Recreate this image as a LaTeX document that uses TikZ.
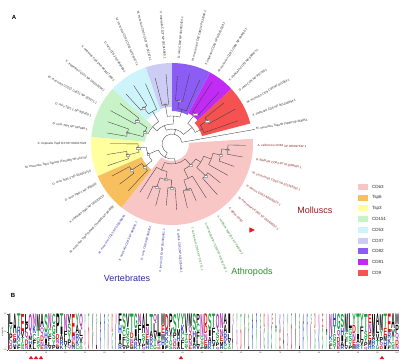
\documentclass[tikz,border=0pt]{standalone}
\usepackage{fontspec}
\setmainfont{Liberation Sans}
\setsansfont{Liberation Sans}
\usepackage{graphicx}
\definecolor{cA}{HTML}{F9C6C6}
\definecolor{cB}{HTML}{F7BF5E}
\definecolor{cC}{HTML}{FFFF9E}
\definecolor{cD}{HTML}{C8F2C8}
\definecolor{cE}{HTML}{CCF4FA}
\definecolor{cF}{HTML}{CCCCF5}
\definecolor{cG}{HTML}{8C5CF5}
\definecolor{cH}{HTML}{C22BF5}
\definecolor{cI}{HTML}{F55252}
\definecolor{cvert}{HTML}{2B2BA0}
\definecolor{carth}{HTML}{2E8B2E}
\definecolor{cmoll}{HTML}{8B1E1E}
\definecolor{lgreen}{HTML}{14A03C}
\definecolor{lpurple}{HTML}{B030B0}
\definecolor{lblue}{HTML}{2040D0}
\definecolor{lred}{HTML}{E01010}
\definecolor{redmark}{HTML}{E8141E}
\def\aaA{black}\def\aaV{black}\def\aaL{black}\def\aaI{black}\def\aaP{black}\def\aaW{black}\def\aaF{black}\def\aaM{black}
\def\aaG{lgreen}\def\aaS{lgreen}\def\aaT{lgreen}\def\aaY{lgreen}\def\aaC{lgreen}
\def\aaN{lpurple}\def\aaQ{lpurple}
\def\aaK{lblue}\def\aaR{lblue}\def\aaH{lblue}
\def\aaD{lred}\def\aaE{lred}
% tree helpers
\newcommand\brad[3]{\draw[br] (#1:#2) -- (#1:#3);}
\newcommand\barc[3]{\draw[br] (#1:#3) arc[start angle=#1,end angle=#2,radius=#3pt];}
\newcommand\wdg[5]{\fill[#5] (#1:#3) arc[start angle=#1,end angle=#2,radius=#3pt] -- (#2:#4) arc[start angle=#2,end angle=#1,radius=#4pt] -- cycle;}
\newcommand\leaflab[3]{%
  \pgfmathtruncatemacro\flip{((#1>90)&&(#1<270))?1:0}%
  \ifnum\flip=1
    \node[lab,text=#2,anchor=east,rotate=#1-180] at (#1:85) {#3};
  \else
    \node[lab,text=#2,anchor=west,rotate=#1] at (#1:85) {#3};
  \fi}
\newcommand\boot[3]{\node[bootbox] at (#1:#2) {#3};}
% logo helpers
\newcommand\logoletter[5]{%
  \pgfmathsetmacro\lgsz{#3-0.3}%
  \node[inner sep=0pt,outer sep=0pt,anchor=south west] at (#1,#2+0.15) {\resizebox*{#5pt}{\lgsz pt}{\color{\csname aa#4\endcsname}\bfseries #4}};}
\newcommand\logocol[2]{%
  \pgfmathsetmacro\lgx{9.2+(#1-1)*3.9}%
  \pgfmathsetmacro\lgpa{{0.42,0.30,0.55,0.36,0.48,0.26,0.62,0.33,0.45,0.38,0.52}[mod(#1,11)]}%
  \pgfmathsetmacro\lghT{36*\lgpa}%
  \pgfmathsetmacro\lgrs{36-\lghT}%
  \foreach \lgfr/\lgcu [count=\lgk] in {0.17/0,0.22/0.17,0.27/0.39,0.34/0.66}{%
    \pgfmathsetmacro\lghh{\lgrs*\lgfr}%
    \pgfmathsetmacro\lgyb{10+\lgrs*\lgcu}%
    \pgfmathparse{{"S","E","K","G","N","R","T","D","A","V","Q","I","L","P","H","F","Y","M","C"}[mod(#1*4+\lgk*3,19)]}%
    \let\lglt\pgfmathresult
    \logoletter{\lgx}{\lgyb}{\lghh}{\lglt}{3.5}%
  }%
  \pgfmathsetmacro\lgyt{10+\lgrs}%
  \logoletter{\lgx}{\lgyt}{\lghT}{#2}{3.5}%
}
\newcommand\thincol[1]{%
  \pgfmathsetmacro\lgx{9+(#1-1)*3.9+1.4}%
  \pgfmathsetmacro\lghb{36*{0.55,0.62,0.48,0.7,0.58}[mod(#1,5)]}%
  \pgfmathsetmacro\lghtop{36-\lghb}%
  \pgfmathsetmacro\lgyt{10+\lghb}%
  \pgfmathparse{{"N","G","K","S","T","E","A","Q","D","V","L","R","Y"}[mod(#1,13)]}\let\lgla\pgfmathresult
  \pgfmathparse{{"N","G","K","S","T","E","A","Q","D","V","L","R","Y"}[mod(#1*5+3,13)]}\let\lglb\pgfmathresult
  \logoletter{\lgx}{10}{\lghb}{\lgla}{0.9}%
  \logoletter{\lgx}{\lgyt}{\lghtop}{\lglb}{0.9}%
}
\begin{document}
\begin{tikzpicture}[x=1pt,y=1pt,
  br/.style={draw=black!75,line width=0.35pt},
  lab/.style={font=\fontsize{3}{3.6}\selectfont,inner sep=0.4pt},
  bootbox/.style={font=\fontsize{1.8}{2}\selectfont,fill=white,draw=black!35,line width=0.1pt,inner sep=0.3pt},
  grp/.style={font=\fontsize{9}{10}\selectfont},
  leg/.style={font=\fontsize{4.5}{5}\selectfont,inner sep=0pt,text=black!85},
  panel/.style={font=\bfseries\fontsize{6}{7}\selectfont},
  tick/.style={font=\fontsize{2}{2.4}\selectfont,inner sep=0pt,text=black!80}]
\useasboundingbox (0,0) rectangle (400,360);
\fill[white] (0,0) rectangle (400,360);
\node[panel] (pA) at (14,343) {A};
\node[panel] (pB) at (13,65) {B};
\begin{scope}[shift={(172,216)}]
% wedges
\wdg{14.7}{43.0}{31}{81}{cI}
\wdg{43.0}{61.9}{35}{81}{cH}
\wdg{61.9}{90.2}{33}{81}{cG}
\wdg{90.2}{109.0}{37}{81}{cF}
\wdg{109.0}{137.3}{35}{81}{cE}
\wdg{137.3}{175.1}{27}{81}{cD}
\wdg{175.1}{203.4}{31}{81}{cC}
\wdg{203.4}{231.7}{33}{81}{cB}
\wdg{231.7}{363.7}{17}{81}{cA}
% root
\barc{10}{241.6}{10}
\brad{10}{10}{84}
\brad{76.03}{10}{15}
\brad{241.6}{10}{15}
% upper group
\barc{39.48}{112.57}{15}
\brad{39.48}{15}{26}
\brad{112.57}{15}{20}
\barc{26.5}{52.45}{26}
\brad{26.5}{26}{34}
\brad{52.45}{26}{38}
\barc{19.43}{33.58}{34}
\brad{19.43}{34}{70}
\brad{33.58}{34}{42}
\barc{28.86}{38.30}{42}
\brad{28.86}{42}{72}
\brad{38.30}{42}{66}
\barc{47.73}{57.16}{38}
\brad{47.73}{38}{70}
\brad{57.16}{38}{74}
\barc{86.64}{138.5}{20}
\brad{86.64}{20}{28}
\brad{138.5}{20}{26}
\barc{73.67}{99.6}{28}
\brad{73.67}{28}{36}
\brad{99.6}{28}{40}
\barc{66.59}{80.74}{36}
\brad{66.59}{36}{70}
\brad{80.74}{36}{44}
\barc{76.03}{85.46}{44}
\brad{76.03}{44}{72}
\brad{85.46}{44}{68}
\barc{94.89}{104.32}{40}
\brad{94.89}{40}{70}
\brad{104.32}{40}{68}
\barc{120.83}{156.2}{26}
\brad{120.83}{26}{38}
\brad{156.2}{26}{30}
\barc{113.76}{127.9}{38}
\brad{113.76}{38}{66}
\brad{127.9}{38}{46}
\barc{123.19}{132.62}{46}
\brad{123.19}{46}{70}
\brad{132.62}{46}{68}
\barc{146.77}{165.64}{30}
\brad{146.77}{30}{42}
\brad{165.64}{30}{46}
\barc{142.05}{151.49}{42}
\brad{142.05}{42}{66}
\brad{151.49}{42}{70}
\barc{160.92}{170.35}{46}
\brad{160.92}{46}{68}
\brad{170.35}{46}{66}
% lower group
\barc{203.37}{279.86}{15}
\brad{203.37}{15}{26}
\brad{279.86}{15}{20}
\barc{186.86}{219.87}{26}
\brad{186.86}{26}{34}
\brad{219.87}{26}{36}
\barc{179.78}{193.94}{34}
\brad{179.78}{34}{62}
\brad{193.94}{34}{46}
\barc{189.22}{198.65}{46}
\brad{189.22}{46}{66}
\brad{198.65}{46}{68}
\barc{212.8}{226.95}{36}
\brad{212.8}{36}{48}
\brad{226.95}{36}{64}
\barc{208.08}{217.51}{48}
\brad{208.08}{48}{68}
\brad{217.51}{48}{66}
\barc{248.17}{311.55}{20}
\brad{248.17}{20}{28}
\brad{311.55}{20}{28}
\barc{236.38}{259.96}{28}
\brad{236.38}{28}{58}
\brad{259.96}{28}{36}
\barc{250.53}{269.4}{36}
\brad{250.53}{36}{46}
\brad{269.4}{36}{44}
\barc{245.81}{255.24}{46}
\brad{245.81}{46}{60}
\brad{255.24}{46}{64}
\barc{264.68}{274.11}{44}
\brad{264.68}{44}{62}
\brad{274.11}{44}{66}
\barc{295.33}{327.76}{28}
\brad{295.33}{28}{38}
\brad{327.76}{28}{34}
\barc{288.26}{302.41}{38}
\brad{288.26}{38}{48}
\brad{302.41}{38}{64}
\barc{283.54}{292.97}{48}
\brad{283.54}{48}{66}
\brad{292.97}{48}{62}
\barc{316.56}{338.96}{34}
\brad{316.56}{34}{46}
\brad{338.96}{34}{42}
\barc{311.84}{321.27}{46}
\brad{311.84}{46}{68}
\brad{321.27}{46}{62}
\barc{330.70}{347.21}{42}
\brad{330.70}{42}{64}
\brad{347.21}{42}{50}
\barc{340.14}{354.28}{50}
\brad{340.14}{50}{66}
\brad{354.28}{50}{56}
\barc{349.57}{359.0}{56}
\brad{349.57}{56}{72}
\brad{359.0}{56}{74}
% bootstrap values
\boot{33.58}{42}{100}
\boot{52.45}{38}{100}
\boot{80.74}{44}{99}
\boot{99.6}{40}{100}
\boot{127.9}{46}{100}
\boot{146.77}{42}{100}
\boot{165.64}{46}{97}
\boot{156.2}{30}{98}
\boot{193.94}{46}{100}
\boot{186.86}{34}{100}
\boot{212.8}{48}{100}
\boot{219.87}{36}{100}
\boot{203.37}{26}{98}
\boot{250.53}{46}{98}
\boot{269.4}{44}{100}
\boot{259.96}{36}{86}
\boot{288.26}{48}{100}
\boot{316.56}{46}{73}
\boot{354.28}{56}{100}
\boot{347.21}{50}{99}
\boot{311.55}{28}{54}
% leaf labels
\leaflab{10}{black!85}{M. musculus Tspan8 Tsp8a NP 666851}
\leaflab{19.43}{black!85}{X. tropicalis CD9 NP 001016894.1}
\leaflab{28.86}{black!85}{M. musculus CD9 Cd9 NP 031683.1}
\leaflab{38.30}{black!85}{D. rerio CD9 NP 997780.1}
\leaflab{47.73}{black!85}{X. tropicalis CD81 NP 988971.1}
\leaflab{57.16}{black!85}{M. musculus CD81 Cd81 NP 598416.1}
\leaflab{66.59}{black!85}{X. tropicalis CD82 NP 001011128.1}
\leaflab{76.03}{black!85}{M. musculus CD82 Cd82 NP 031680.1}
\leaflab{85.46}{black!85}{D. rerio CD82 NP 001002424.1}
\leaflab{94.89}{black!85}{X. tropicalis CD37 NP 001015869.1}
\leaflab{104.32}{black!85}{M. musculus CD37 Cd37 NP 031671.1}
\leaflab{113.76}{black!85}{M. musculus CD53 Cd53 NP 031677.1}
\leaflab{123.19}{black!85}{D. rerio CD53 NP 956468.1}
\leaflab{132.62}{black!85}{X. tropicalis CD53 NP 001017180.1}
\leaflab{142.05}{black!85}{X. tropicalis CD151 NP 001016294.1}
\leaflab{151.49}{black!85}{M. musculus CD151 Cd151 NP 033971.1}
\leaflab{160.92}{black!85}{D. rerio Tsp1.1 NP 956429.1}
\leaflab{170.35}{black!85}{D. rerio Tsp1 NP 997896.1}
\leaflab{179.78}{black!85}{X. tropicalis Tsp3 OX NP 001017023}
\leaflab{189.22}{black!85}{M. musculus Tsp3 Tspan3 (Tm4sf8) NP 062797}
\leaflab{198.65}{black!85}{D. rerio Tsp3.2 NP 001003750}
\leaflab{208.08}{black!85}{D. rerio Tsp6.1 NP 956606}
\leaflab{217.51}{black!85}{X. tropicalis Tsp6 NP 001016213}
\leaflab{226.95}{black!85}{M. musculus Tsp6 Tspan6 (Tm4sf6) NP 062699}
\leaflab{236.38}{cvert}{M. musculus CD63 NP 001036045}
\leaflab{245.81}{cvert}{X. tropicalis CD63 NP 989392.1}
\leaflab{255.24}{cvert}{D. rerio CD63 NP 998362}
\leaflab{264.68}{cvert}{X. laevis CD63 NP 001080481.1}
\leaflab{274.11}{cvert}{G. gallus CD63 NP 001026428.1}
\leaflab{283.54}{carth}{T. castaneum CD63 XP 971770.1}
\leaflab{292.97}{carth}{D. melanogaster CD63 NP 001261766.1}
\leaflab{302.41}{carth}{A. mellifera Tsp42Ea XP 394354.2}
\leaflab{311.84}{cmoll}{C. gigas CD63}
\leaflab{321.27}{cmoll}{M. mercenaria CD63 XP 053404552.1}
\leaflab{330.70}{cmoll}{H. discus CD63 ABO26619.1}
\leaflab{340.14}{cmoll}{M. yessoensis CD63 XP 021365032.1}
\leaflab{349.57}{cmoll}{B. glabrata CD63 XP 013069635.1}
\leaflab{359.0}{cmoll}{A. californica CD63 XP 005097532.1}
\end{scope}
% marker for C. gigas
\fill[redmark] (249.3,132.7) -- (249.3,127.3) -- (255,130) -- cycle;
% group labels
\node[grp,text=cmoll] (gM) at (315,150) {Molluscs};
\node[grp,text=cvert] (gV) at (127,82) {Vertebrates};
\node[grp,text=carth] (gA) at (252,88) {Athropods};
% legend
\foreach \lgc/\lgt [count=\lgn from 0] in {cA/CD63,cB/Tsp6,cC/Tsp3,cD/CD151,cE/CD53,cF/CD37,cG/CD82,cH/CD81,cI/CD9}{
  \pgfmathsetmacro\ly{173-10.7*\lgn}
  \fill[\lgc] (358,\ly-3) rectangle (368,\ly+3);
  \node[leg,anchor=west] (leg\lgn) at (372,\ly) {\lgt};
}
% sequence logo
\foreach \lgtop [count=\lgi] in {L,A,T,E,L,Q,N,M,A,S,N,C,P,T,N,V,E,Y,Q}{\logocol{\lgi}{\lgtop}}
\foreach \lgi in {20,...,28}{\thincol{\lgi}}
\foreach \lgtop [count=\lgi from 29] in {F,S,V,T,G,N,A,L,T,Q,L,M,D,P,S,Y,Y,V,M,S,P,N,D,S,T,Q,N,A,I}{\logocol{\lgi}{\lgtop}}
\foreach \lgi in {58,...,82}{\thincol{\lgi}}
\foreach \lgtop [count=\lgi from 83] in {N,H,G,S,M,L,Y,T,Y,T,E,M,A,M,T,E,A,M}{\logocol{\lgi}{\lgtop}}
% axes
\draw[black!70,line width=0.2pt] (9,9.6) -- (399,9.6);
\foreach \lgj in {5,10,...,100}{
  \pgfmathsetmacro\tkx{9+(\lgj-0.5)*3.9}
  \draw[black!70,line width=0.2pt] (\tkx,9.6) -- (\tkx,8.6);
  \node[tick] at (\tkx,6.8) {\lgj};
}
\draw[black!70,line width=0.2pt] (8,10) -- (8,46);
\foreach \lgv/\lbl in {10/0.0,28/0.5,46/1.0}{
  \draw[black!70,line width=0.2pt] (8,\lgv) -- (7,\lgv);
  \node[tick,anchor=east] at (6.8,\lgv) {\lbl};
}
\node[tick,rotate=90] (ylab) at (2.5,28) {probability};
% red markers under logo
\foreach \mx in {31,36,41,181,382}{
  \fill[redmark] (\mx-2.2,1) -- (\mx+2.2,1) -- (\mx,4.2) -- cycle;
}
\end{tikzpicture}
\end{document}
